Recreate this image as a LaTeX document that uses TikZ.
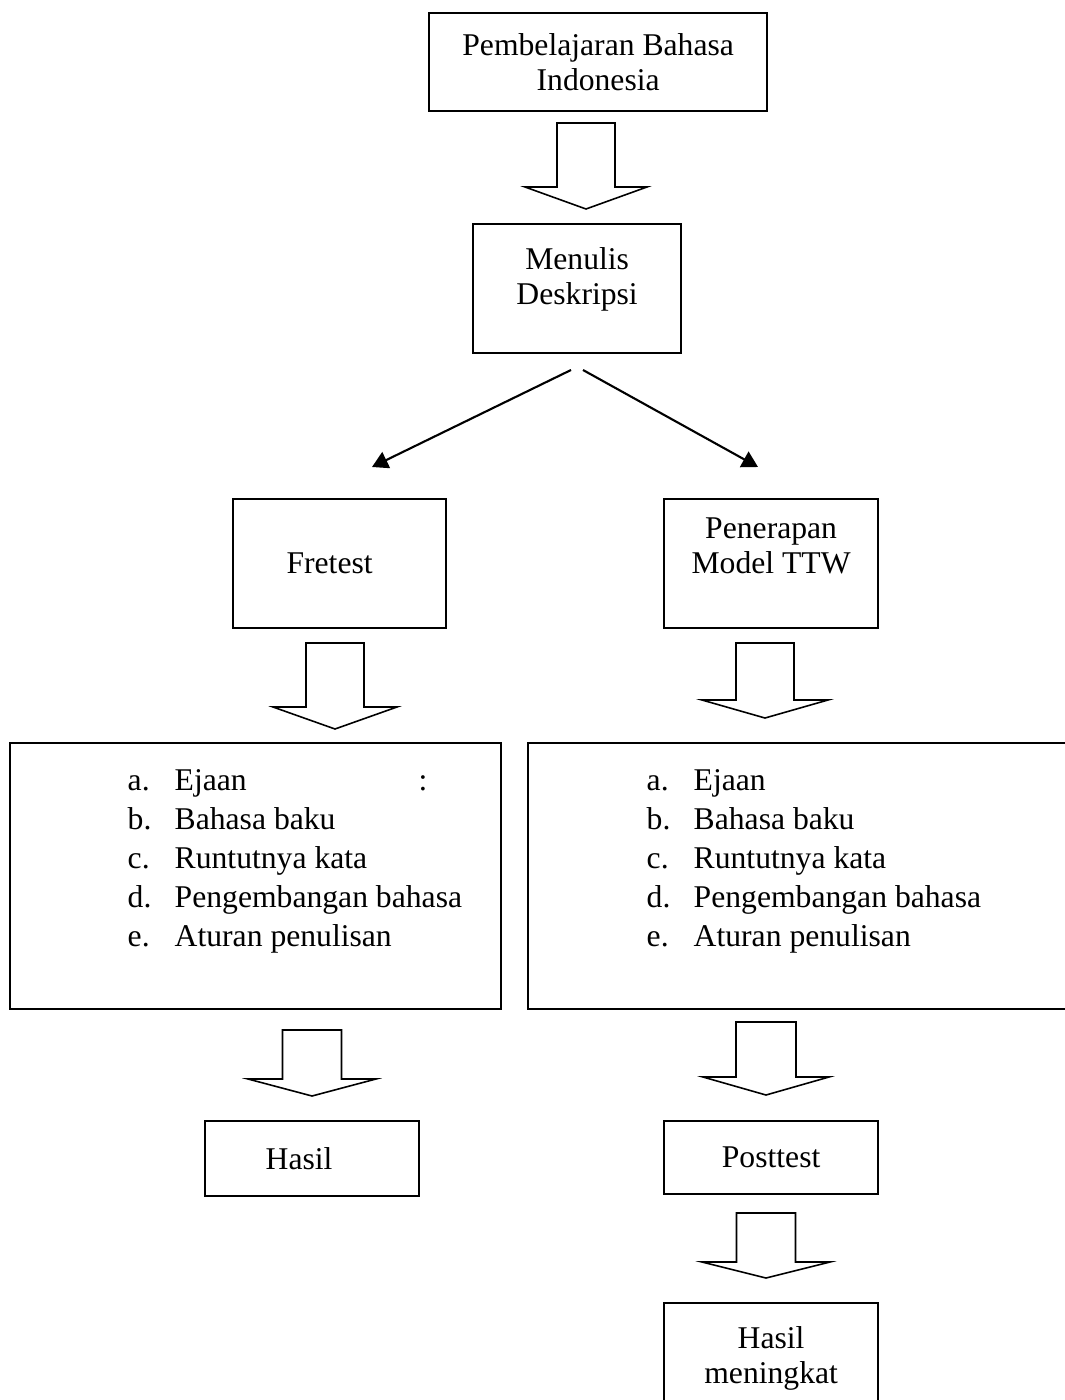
\documentclass[tikz,border=0pt]{standalone}
\usepackage{fontspec}
\setmainfont{Liberation Serif}
\usetikzlibrary{arrows.meta,positioning}
\tikzset{>={Triangle[length=4.5pt,width=5pt]}}
\tikzset{
  box/.style={draw,line width=0.6pt,inner sep=0pt,anchor=north west},
  txt/.style={inner sep=0pt,align=center,font=\fontsize{9pt}{10pt}\selectfont},
  item/.style={inner sep=0pt,anchor=base west,font=\fontsize{9pt}{10pt}\selectfont},
  hollow/.style={line width=0.45pt,line join=miter}
}
\newcommand{\blockarrow}[6]{%
  \draw[hollow] ({#1-#2},#3) -- ({#1+#2},#3) -- ({#1+#2},#4) -- ({#1+#5},#4)
    -- (#1,#6) -- ({#1-#5},#4) -- ({#1-#2},#4) -- cycle;}

\begin{document}
\begin{tikzpicture}[x=0.01cm,y=-0.01cm]
    \useasboundingbox (0,0) rectangle (1065,1400);
    \clip (0,0) rectangle (1065,1400);
    \node[box,txt,anchor=north west,minimum width=3.38cm,minimum height=0.98cm] (pembelajaran) at (428,12) {Pembelajaran Bahasa\\Indonesia};
    \blockarrow{586}{29}{123}{187}{61}{209}
    \node[box,minimum width=2.08cm,minimum height=1.29cm] (menulis) at (472,223) {};
    \node[txt,below=0.24cm of menulis.north] (menulisT) {Menulis\\Deskripsi};
    \coordinate (forkL) at (571,370);
    \coordinate (forkR) at (583,370);
    \coordinate (tipL) at (372,467);
    \coordinate (tipR) at (758,467);
    \draw[->,line width=0.6pt] (forkL) -- (tipL);
    \draw[->,line width=0.6pt] (forkR) -- (tipR);
    \node[box,minimum width=2.13cm,minimum height=1.29cm] (fretest) at (232,498) {};
    \node[txt] (fretestT) at ([xshift=-0.1cm]fretest.center) {Fretest};
    \node[box,minimum width=2.14cm,minimum height=1.29cm] (penerapan) at (663,498) {};
    \node[txt,below=0.19cm of penerapan.north] (penerapanT) {Penerapan\\Model TTW};
    \blockarrow{335}{29}{643}{707}{62}{729}
    \blockarrow{765}{29}{643}{700}{63}{718}
    \node[box,minimum width=4.91cm,minimum height=2.66cm] (aspekL) at (9,742) {};
    \node[box,minimum width=5.60cm,minimum height=2.66cm] (aspekR) at (527,742) {};
    \foreach \l/\t [count=\i] in {a./Ejaan,b./Bahasa baku,c./Runtutnya kata,d./Pengembangan bahasa,e./Aturan penulisan}{
        \node[item] (labL\i) at (127,{790+(\i-1)*39}) {\l};
        \node[item] (itemL\i) at (174,{790+(\i-1)*39}) {\t};
        \node[item] (labR\i) at (646,{790+(\i-1)*39}) {\l};
        \node[item] (itemR\i) at (693,{790+(\i-1)*39}) {\t};
    }
    \node[item] (colon) at (418,790) {:};
    \blockarrow{312}{29.5}{1030}{1079}{64}{1096}
    \blockarrow{766}{30}{1022}{1077}{63}{1095}
    \node[box,minimum width=2.14cm,minimum height=0.75cm] (hasil) at (204,1120) {};
    \node[txt] (hasilT) at ([xshift=-0.13cm]hasil.center) {Hasil};
    \node[box,minimum width=2.14cm,minimum height=0.73cm] (posttest) at (663,1120) {};
    \node[txt] (posttestT) at (posttest.center) {Posttest};
    \blockarrow{766}{29.5}{1213}{1262}{64}{1278}
    \node[box,minimum width=2.14cm,minimum height=1.20cm] (meningkat) at (663,1302) {};
    \node[txt,below=0.24cm of meningkat.north] (meningkatT) {Hasil\\meningkat};
\end{tikzpicture}
\end{document}
